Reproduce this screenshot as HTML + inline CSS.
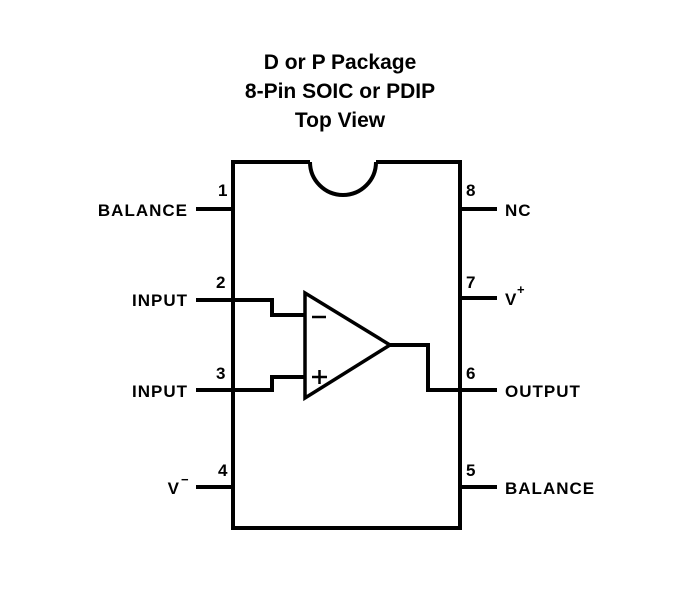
<!DOCTYPE html>
<html><head><style>body{margin:0;background:#fff}</style></head><body>
<svg width="678" height="587" viewBox="0 0 678 587" xmlns="http://www.w3.org/2000/svg">
<g font-family="Liberation Sans, sans-serif" font-weight="bold" fill="#000" text-anchor="middle" font-size="21">
<text x="340" y="69">D or P Package</text>
<text x="340" y="98">8-Pin SOIC or PDIP</text>
<text x="340" y="127">Top View</text>
</g>
<g stroke="#000" stroke-width="4" fill="none">
<path d="M376 162 H460 V528 H233 V162 H310"/>
<path d="M310 162 A33 33 0 0 0 376 162"/>
<path d="M196 209 H233 M196 300 H272 V315 H304 M196 390 H272 V377 H304 M196 487 H233"/>
<path d="M460 209 H497 M460 298 H497 M460 487 H497 M390 345 H428 V390 H497"/>
<path d="M305 293 L390 345 L305 398 Z" stroke-width="3.5"/>
<path d="M312 317 H326 M312 377 H327 M319.5 370 V384" stroke-width="2.5"/>
</g>
<g font-family="Liberation Sans Narrow, Liberation Sans, sans-serif" font-weight="bold" font-size="17" fill="#000">
<text x="218" y="196">1</text><text x="216" y="288">2</text><text x="216" y="379">3</text><text x="218" y="476">4</text>
<text x="466" y="196">8</text><text x="466" y="288">7</text><text x="466" y="379">6</text><text x="466" y="476">5</text>
<g text-anchor="end" letter-spacing="1">
<text x="188" y="216">BALANCE</text><text x="188" y="306">INPUT</text><text x="188" y="397">INPUT</text>
<text x="180" y="494">V</text>
</g>
<text x="181" y="484" font-size="13">−</text>
<g letter-spacing="1">
<text x="505" y="216">NC</text><text x="505" y="305">V</text><text x="517" y="294" font-size="13">+</text>
<text x="505" y="397">OUTPUT</text><text x="505" y="494">BALANCE</text>
</g>
</g>
</svg>
</body></html>
